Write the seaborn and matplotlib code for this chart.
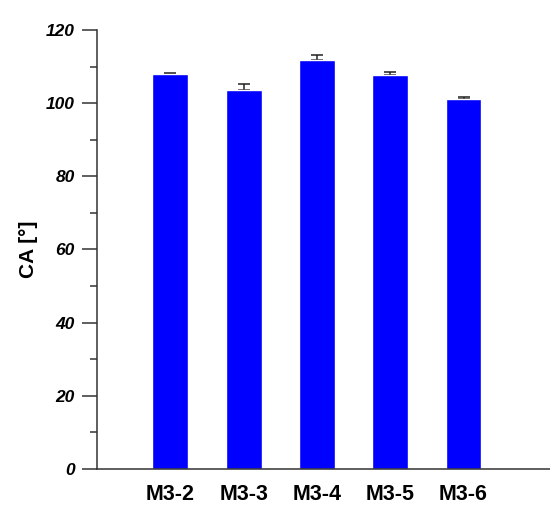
import matplotlib.pyplot as plt
import pandas as pd
import seaborn as sns
from matplotlib.ticker import MultipleLocator

sns.set_style("ticks")
plt.rcParams["font.family"] = ["Liberation Sans", "DejaVu Sans"]
plt.rcParams["text.color"] = "black"
plt.rcParams["axes.labelcolor"] = "black"
plt.rcParams["xtick.labelcolor"] = "black"
plt.rcParams["ytick.labelcolor"] = "black"

samples = ["M3-2", "M3-3", "M3-4", "M3-5", "M3-6"]
ca = [107.9, 103.6, 111.9, 107.7, 101.1]
ca_err = [0.4, 1.7, 1.2, 0.9, 0.5]

df = pd.DataFrame({"sample": samples, "CA": ca, "err": ca_err})

fig = plt.figure(figsize=(5.5, 5.13), dpi=100)
ax = fig.add_axes([0.1764, 0.0858, 0.8236, 0.8557])

sns.barplot(data=df, x="sample", y="CA", color="#0000ff", saturation=1,
            width=0.49, ax=ax, zorder=2)
ax.errorbar(range(len(samples)), df["CA"], yerr=[[0] * len(samples), df["err"]],
            fmt="none", ecolor="#222222", elinewidth=1.1, capsize=4.5, capthick=1.1, zorder=1)

ax.set_ylim(0, 120)
ax.set_xlim(-1.0, 5.18)
ax.yaxis.set_major_locator(MultipleLocator(20))
ax.yaxis.set_minor_locator(MultipleLocator(10))

for s in ["top", "right"]:
    ax.spines[s].set_visible(False)
for s in ["left", "bottom"]:
    ax.spines[s].set_color("#333333")
    ax.spines[s].set_linewidth(1.1)

ax.tick_params(axis="y", which="major", length=11, width=1.1, color="#333333", pad=5)
ax.tick_params(axis="y", which="minor", length=5, width=1.1, color="#333333")
ax.tick_params(axis="x", length=0, pad=11)

for lab in ax.get_yticklabels():
    lab.set_fontsize(12.5)
    lab.set_fontweight("bold")
    lab.set_fontstyle("italic")
    lab.set_color("black")
for lab in ax.get_xticklabels():
    lab.set_fontsize(15.5)
    lab.set_fontweight("bold")
    lab.set_color("black")

ax.set_xlabel("")
ax.set_ylabel("CA [°]", fontsize=15, fontweight="bold", labelpad=6, color="black")

plt.savefig("out.png", dpi=100)
